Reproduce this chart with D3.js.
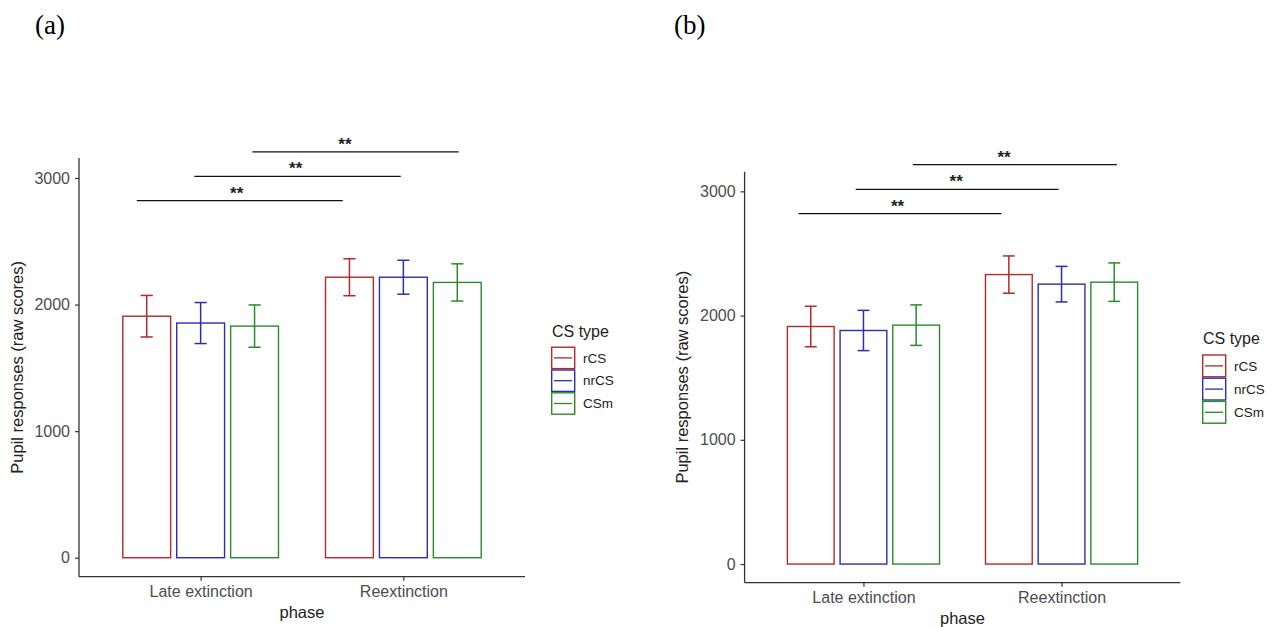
<!DOCTYPE html>
<html>
<head>
<meta charset="utf-8">
<script src="https://cdn.jsdelivr.net/npm/d3@7"></script>
<style>
  body { margin: 0; background: #fff; }
  svg { display: block; }
  text { font-family: "Liberation Sans", Arial, sans-serif; }
</style>
</head>
<body>
<svg id="chart" width="1273" height="627"></svg>
<script>
// categories
const phases = ["Late extinction", "Reextinction"];
const csTypes = ["rCS", "nrCS", "CSm"];
const yTicks = [0, 1000, 2000, 3000];

// panel (a): means and standard errors per CS type, one value per phase
const meanA = { rCS: [1908, 2216], nrCS: [1854, 2216], CSm: [1830, 2175] };
const seA   = { rCS: [164, 146],   nrCS: [162, 134],   CSm: [167, 147] };
// panel (b)
const meanB = { rCS: [1912, 2330], nrCS: [1880, 2253], CSm: [1923, 2269] };
const seB   = { rCS: [163, 150],   nrCS: [162, 143],   CSm: [163, 155] };

// significance brackets (x in phase position units, y in data units)
const sigYA = [2822, 3013, 3207];
const sigXA = [[0.685, 1.701], [0.969, 1.987], [1.255, 2.273]];
const sigTextXA = [1.178, 1.469, 1.712];
const sigYB = [2820, 3015, 3215];
const sigXB = [[0.672, 1.696], [0.961, 1.985], [1.249, 2.279]];
const sigTextXB = [1.172, 1.468, 1.710];
const sigLabel = "**";

const colors = { rCS: "#b22a2a", nrCS: "#2d2db4", CSm: "#2b8a2b" };

const svg = d3.select("#chart");

function drawPanel(p) {
  const g = svg.append("g");
  // phase axis: positions 1 and 2 with ggplot-like 0.6 expansion
  const x = d3.scaleLinear().domain([0.4, 2.6]).range([p.left, p.right]);
  const y = d3.scaleLinear().domain([-150, 3158]).range([p.bottom, p.top]);
  const dodge = 0.266, barW = 0.236, capW = 0.03;

  // panel label
  g.append("text")
    .attr("x", p.labelX).attr("y", 34)
    .style("font-family", "'Liberation Serif', 'Times New Roman', serif")
    .style("font-size", "27px")
    .text(p.label);

  const rows = [];
  phases.forEach((ph, i) => csTypes.forEach((cs, k) => {
    rows.push({ cs, pos: i + 1 + (k - 1) * dodge, m: p.mean[cs][i], se: p.se[cs][i] });
  }));

  // bars
  g.selectAll("rect.bar").data(rows).join("rect")
    .attr("class", "bar")
    .attr("x", d => x(d.pos - barW / 2))
    .attr("width", x(barW) - x(0))
    .attr("y", d => y(d.m))
    .attr("height", d => y(0) - y(d.m))
    .attr("fill", "none")
    .attr("stroke", d => colors[d.cs])
    .attr("stroke-width", 1.4);

  // error bars
  const eb = g.selectAll("g.eb").data(rows).join("g").attr("class", "eb")
    .attr("stroke", d => colors[d.cs]).attr("stroke-width", 1.5);
  eb.append("line")
    .attr("x1", d => x(d.pos)).attr("x2", d => x(d.pos))
    .attr("y1", d => y(d.m + d.se)).attr("y2", d => y(d.m - d.se));
  eb.append("line")
    .attr("x1", d => x(d.pos - capW)).attr("x2", d => x(d.pos + capW))
    .attr("y1", d => y(d.m + d.se)).attr("y2", d => y(d.m + d.se));
  eb.append("line")
    .attr("x1", d => x(d.pos - capW)).attr("x2", d => x(d.pos + capW))
    .attr("y1", d => y(d.m - d.se)).attr("y2", d => y(d.m - d.se));

  // axes
  const yAxis = g.append("g")
    .attr("transform", `translate(${p.left},0)`)
    .call(d3.axisLeft(y).tickValues(yTicks).tickSize(4).tickPadding(5).tickFormat(d3.format("d")));
  const xAxis = g.append("g")
    .attr("transform", `translate(0,${p.bottom})`)
    .call(d3.axisBottom(x).tickValues([1, 2]).tickSize(4).tickPadding(5).tickFormat(d => phases[d - 1]));
  [yAxis, xAxis].forEach(a => {
    a.select(".domain").attr("stroke", "#333").attr("stroke-width", 1.3)
      .attr("d", a === yAxis ? `M0,${p.bottom}V${p.top}` : `M${p.left},0H${p.right}`);
    a.selectAll(".tick line").attr("stroke", "#333").attr("stroke-width", 1.2);
    a.selectAll(".tick text").attr("fill", "#4d4d4d").style("font-size", "16px");
  });

  // axis titles
  g.append("text")
    .attr("transform", `translate(${p.yTitleX},${(p.top + p.bottom) / 2}) rotate(-90)`)
    .attr("text-anchor", "middle").attr("fill", "#222")
    .style("font-size", "16.5px")
    .text("Pupil responses (raw scores)");
  g.append("text")
    .attr("x", x(1.5)).attr("y", p.xTitleY)
    .attr("text-anchor", "middle").attr("fill", "#222")
    .style("font-size", "16.5px")
    .text("phase");

  // significance brackets
  const sig = g.selectAll("g.sig").data(p.sigY).join("g").attr("class", "sig");
  sig.append("line")
    .attr("x1", (d, i) => x(p.sigX[i][0])).attr("x2", (d, i) => x(p.sigX[i][1]))
    .attr("y1", d => y(d)).attr("y2", d => y(d))
    .attr("stroke", "#111").attr("stroke-width", 1.2);
  sig.append("text")
    .attr("x", (d, i) => x(p.sigTextX[i])).attr("y", d => y(d) - 2)
    .attr("text-anchor", "middle").attr("fill", "#222")
    .style("font-size", "17px").style("font-weight", "bold")
    .text(sigLabel);

  // legend
  const lg = g.append("g").attr("transform", `translate(${p.legX},${p.legY})`);
  lg.append("text").attr("x", 1).attr("y", -10)
    .style("font-size", "16px").attr("fill", "#222").text("CS type");
  const key = lg.selectAll("g.key").data(csTypes).join("g").attr("class", "key")
    .attr("transform", (d, i) => `translate(0,${i * p.keyStep})`);
  key.append("rect")
    .attr("x", 0.7).attr("y", 0.7)
    .attr("width", 23).attr("height", p.keyStep - 1.4)
    .attr("fill", "none").attr("stroke", d => colors[d]).attr("stroke-width", 1.4);
  key.append("line")
    .attr("x1", 3).attr("x2", 21)
    .attr("y1", p.keyStep / 2).attr("y2", p.keyStep / 2)
    .attr("stroke", d => colors[d]).attr("stroke-width", 1.3);
  key.append("text")
    .attr("x", 32).attr("y", p.keyStep / 2).attr("dy", "0.35em")
    .style("font-size", "13.5px").attr("fill", "#222")
    .text(d => d);
}

drawPanel({
  label: "(a)", labelX: 35,
  left: 79, right: 525, top: 158, bottom: 576.7,
  mean: meanA, se: seA,
  sigY: sigYA, sigX: sigXA, sigTextX: sigTextXA,
  yTitleX: 23, xTitleY: 618,
  legX: 551, legY: 346.5, keyStep: 22.8
});

drawPanel({
  label: "(b)", labelX: 674,
  left: 744.6, right: 1180.4, top: 171.7, bottom: 582.7,
  mean: meanB, se: seB,
  sigY: sigYB, sigX: sigXB, sigTextX: sigTextXB,
  yTitleX: 688, xTitleY: 624,
  legX: 1202, legY: 354.3, keyStep: 23.2
});
</script>
</body>
</html>
